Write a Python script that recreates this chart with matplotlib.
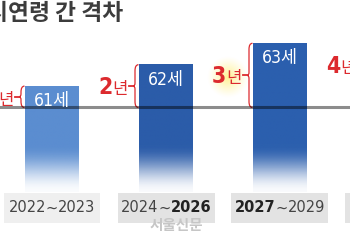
import numpy as np
import matplotlib
matplotlib.use("Agg")
import matplotlib.pyplot as plt
from matplotlib import font_manager
from matplotlib.path import Path
from matplotlib.patches import PathPatch, Rectangle
from matplotlib.offsetbox import TextArea, HPacker, AnnotationBbox

# data
ages = [61, 62, 63, 64]
gaps = [1, 2, 3, 4]
period_start = ["2022", "2024", "2027"]
period_end = ["2023", "2026", "2029"]
bold_part = ["none", "end", "start"]
title = "시연령 간 격차"
watermark = "서울신문"
base_age = 60

# look for a narrow face, else plain Liberation Sans
names = {f.name for f in font_manager.fontManager.ttflist}
cond = {f.name for f in font_manager.fontManager.ttflist
        if str(f.stretch) in ("condensed", "semi-condensed", "extra-condensed")}
if "Liberation Sans Narrow" in names:
    NARROW, STRETCH = "Liberation Sans Narrow", "normal"
    fs_period, fs_value, fs_gap = 14, 14, 18
elif "DejaVu Sans" in cond:
    NARROW, STRETCH = "DejaVu Sans", "condensed"
    fs_period, fs_value, fs_gap = 11.7, 12.6, 16.5
else:
    NARROW, STRETCH = "Liberation Sans", "normal"
    fs_period, fs_value, fs_gap = 12.3, 12.8, 16.5
KR = "Noto Sans CJK KR"

bar_colors = ["#5b8dd0", "#2b5ca9", "#2b5fae", "#2b5fae"]
box_colors = ["#efefef", "#e3e3e3", "#e3e3e3", "#e3e3e3"]
glow = [False, False, True, False]
red = "#dc2a2e"

# pixel scale of the layout
UX = 114.0   # px per bar slot
UY = 21.4    # px per year
px = lambda d: d / UX
py = lambda d: d / UY

fig = plt.figure(figsize=(3.5, 2.5), dpi=100)
ax = fig.add_axes([0, 0, 1, 1])
ax.axis("off")

x = np.arange(len(ages))
bar_bottom = base_age - py(84.5)
bars = ax.bar(x, np.array(ages) - bar_bottom, bottom=bar_bottom,
              width=px(54), color="none", zorder=2)

fade_top = base_age - py(38)
for i, b in enumerate(bars):
    left, w = b.get_x(), b.get_width()
    bot, top = b.get_y(), b.get_y() + b.get_height()
    ys = np.linspace(top, bot, 200)
    t = np.clip((fade_top - ys) / (fade_top - bot), 0, 1)
    a = 1 - t * t * (3 - 2 * t) * 0.97
    rgba = np.zeros((200, 1, 4))
    rgba[..., :3] = matplotlib.colors.to_rgb(bar_colors[i])
    rgba[:, 0, 3] = a
    ax.imshow(rgba, extent=(left, left + w, bot, top), aspect="auto",
              interpolation="bilinear", zorder=2)

    # value label
    ax.text(x[i], ages[i] - py(15), f"{ages[i]}세", color="white",
            fontsize=fs_value, family=[NARROW, KR], stretch=STRETCH,
            ha="center", va="center", zorder=4)

    # brace from bar top down to the base line
    mid = (ages[i] + base_age) / 2
    xe, xl, xt = left - px(0.5), left - px(4), left - px(5.8)
    r, r2 = py(6), py(3)
    verts = [(xe, top), (xl, top), (xl, top - r),
             (xl, mid + r2), (xl, mid), (xt, mid),
             (xl, mid), (xl, mid - r2),
             (xl, base_age + r), (xl, base_age), (xe, base_age)]
    codes = [Path.MOVETO, Path.CURVE3, Path.CURVE3,
             Path.LINETO, Path.CURVE3, Path.CURVE3,
             Path.CURVE3, Path.CURVE3,
             Path.LINETO, Path.CURVE3, Path.CURVE3]
    ax.add_patch(PathPatch(Path(verts, codes), fc="none", ec=red, lw=0.9,
                           zorder=3))
    ax.plot([xt, xt - px(4)], [mid, mid], color=red, lw=1.3, zorder=3)

    # gap label
    lab = HPacker(children=[
        TextArea(str(gaps[i]), textprops=dict(color=red, fontsize=fs_gap,
                                              fontweight="bold", family=NARROW,
                                              stretch=STRETCH)),
        TextArea("년", textprops=dict(color=red, fontsize=12, family=KR,
                                      fontweight="medium"))],
        align="baseline", pad=0, sep=0)
    gx, gy = xt - px(5.5), mid - py(1.5)
    if glow[i]:
        n = 80
        g = np.linspace(-1, 1, n)
        rr = np.sqrt(g[None, :] ** 2 + g[:, None] ** 2)
        img = np.zeros((n, n, 4))
        img[..., 0], img[..., 1], img[..., 2] = 1.0, 0.95, 0.58
        img[..., 3] = np.clip(1 - rr, 0, 1) ** 1.2
        cx, cy = gx - px(14), gy
        ax.imshow(img, extent=(cx - px(21), cx + px(21), cy - py(21), cy + py(21)),
                  aspect="auto", interpolation="bilinear", zorder=1)
    ax.add_artist(AnnotationBbox(lab, (gx, gy), box_alignment=(1, 0.5),
                                 frameon=False, pad=0, zorder=5,
                                 annotation_clip=False))

    # period box
    ax.add_patch(Rectangle((x[i] - px(48.5), base_age - py(115.5)), px(97), py(30),
                           fc=box_colors[i], ec="none", zorder=1))
    if i < len(period_start):
        sw = "bold" if bold_part[i] == "start" else "normal"
        ew = "bold" if bold_part[i] == "end" else "normal"
        sc = "#222222" if sw == "bold" else "#444444"
        ec = "#222222" if ew == "bold" else "#444444"
        per = HPacker(children=[
            TextArea(period_start[i], textprops=dict(color=sc, fontsize=fs_period,
                                                     fontweight=sw, family=NARROW,
                                                     stretch=STRETCH)),
            TextArea("~", textprops=dict(color="#444444", fontsize=fs_period,
                                         family=NARROW, stretch=STRETCH)),
            TextArea(period_end[i], textprops=dict(color=ec, fontsize=fs_period,
                                                   fontweight=ew, family=NARROW,
                                                   stretch=STRETCH))],
            align="baseline", pad=0, sep=0)
        ax.add_artist(AnnotationBbox(per, (x[i], base_age - py(100.5)),
                                     box_alignment=(0.5, 0.5), frameon=False,
                                     pad=0, zorder=5))

ax.axhline(base_age, color="black", alpha=0.45, lw=2.2, zorder=3)

ax.text(-px(65), base_age + py(93.5), title, fontsize=16.4, fontweight="bold",
        family=KR, color="#3c3c3c", ha="left", va="center")
ax.text(176 / 350, 1 - 225 / 250, watermark, transform=ax.transAxes,
        fontsize=10.5, fontweight="bold", family=KR, color="#c6c6c6",
        ha="center", va="center", zorder=6)

ax.set_xlim(-px(52), px(350 - 52))
ax.set_ylim(base_age - py(142.5), base_age + py(107.5))

fig.savefig("out.png", dpi=100)
